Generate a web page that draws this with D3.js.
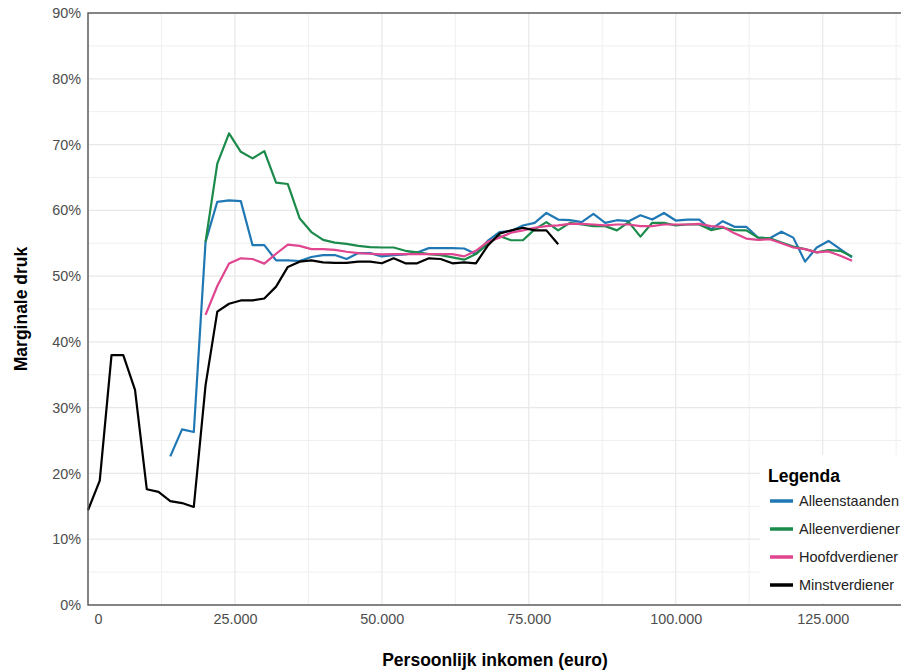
<!DOCTYPE html>
<html><head><meta charset="utf-8">
<script src="https://cdn.jsdelivr.net/npm/d3@7"></script>
<style>
body{margin:0;background:#fff;}
svg{display:block;font-family:"Liberation Sans",Arial,sans-serif;}
</style></head>
<body><svg id="chart" width="901" height="671"></svg>
<script>
// ---- data (income in euro, marginal pressure in %) ----
const income = [0,2000,4000,6000,8000,10000,12000,14000,16000,18000,20000,22000,24000,26000,28000,30000,32000,34000,36000,38000,40000,42000,44000,46000,48000,50000,52000,54000,56000,58000,60000,62000,64000,66000,68000,70000,72000,74000,76000,78000,80000,82000,84000,86000,88000,90000,92000,94000,96000,98000,100000,102000,104000,106000,108000,110000,112000,114000,116000,118000,120000,122000,124000,126000,128000,130000];
const alleenstaanden = [null,null,null,null,null,null,null,
  22.6,26.7,26.3,
  55.2,61.3,61.5,61.4,54.7,54.7,52.4,52.4,52.3,52.9,
  53.2,53.2,52.6,53.5,53.5,53.0,53.2,53.3,53.6,54.25,
  54.25,54.25,54.2,53.35,55.35,56.7,56.85,57.7,58.1,59.6,
  58.6,58.5,58.2,59.45,58.1,58.5,58.35,59.25,58.6,59.6,
  58.45,58.6,58.6,57.1,58.35,57.5,57.5,55.85,55.75,56.75,
  55.85,52.2,54.35,55.35,54.1,52.85];
const alleenverdiener = [null,null,null,null,null,null,null,null,null,null,
  55.2,67.1,71.7,68.9,67.9,69.0,64.2,64.0,58.8,56.7,
  55.5,55.1,54.9,54.6,54.4,54.35,54.35,53.85,53.6,53.35,
  53.2,52.85,52.5,53.35,54.85,56.1,55.45,55.45,57.1,58.2,
  56.95,58.1,57.85,57.6,57.6,56.95,58.2,56.0,58.1,58.1,
  57.7,57.85,57.85,57.0,57.35,57.0,56.95,55.85,55.75,55.1,
  54.5,54.1,53.6,53.95,53.85,53.0];
const hoofdverdiener = [null,null,null,null,null,null,null,null,null,null,
  44.1,48.5,51.9,52.7,52.6,51.9,53.4,54.8,54.6,54.1,
  54.1,54.0,53.7,53.5,53.4,53.3,53.35,53.35,53.35,53.35,
  53.35,53.35,53.0,53.85,55.2,55.85,56.6,56.95,57.35,57.6,
  57.7,57.95,57.95,57.85,57.7,57.85,57.85,57.6,57.6,57.85,
  57.85,57.85,57.95,57.6,57.5,56.5,55.7,55.5,55.6,55.0,
  54.35,54.1,53.6,53.75,53.1,52.35];
const minstverdiener = [14.4,18.9,38.0,38.0,32.7,17.6,17.2,15.8,15.5,14.9,
  33.4,44.6,45.8,46.3,46.3,46.6,48.4,51.4,52.2,52.4,
  52.1,52.0,52.0,52.2,52.2,51.95,52.7,51.95,51.95,52.7,
  52.6,51.95,52.1,51.95,54.6,56.45,56.95,57.35,56.95,56.95,
  54.85];
const seriesNames = ["Alleenstaanden","Alleenverdiener","Hoofdverdiener","Minstverdiener"];
const seriesValues = [alleenstaanden, alleenverdiener, hoofdverdiener, minstverdiener];
const seriesColors = ["#1f78b4","#1b8a4b","#e0458f","#000000"];
const xTicks = [0,25000,50000,75000,100000,125000];
const xMinor = [12500,37500,62500,87500,112500,137500];
const yTicks = [0,10,20,30,40,50,60,70,80,90];
const yMinor = [5,15,25,35,45,55,65,75,85];
const xTitle = "Persoonlijk inkomen (euro)";
const yTitle = "Marginale druk";
const legendTitle = "Legenda";

// ---- layout ----
const svg = d3.select("#chart");
const L = 88, R = 902, T = 13, B = 605;
const x = d3.scaleLinear().domain([0, 138500]).range([L, R]);
const y = d3.scaleLinear().domain([0, 90]).range([B, T]);
const fmtX = v => d3.format(",")(v).replace(/,/g, ".");

const grid = svg.append("g");
grid.selectAll(".xm").data(xMinor).join("line")
  .attr("x1", d => x(d)).attr("x2", d => x(d)).attr("y1", T).attr("y2", B)
  .attr("stroke", "#efefef").attr("stroke-width", 1);
grid.selectAll(".ym").data(yMinor).join("line")
  .attr("y1", d => y(d)).attr("y2", d => y(d)).attr("x1", L).attr("x2", R)
  .attr("stroke", "#efefef").attr("stroke-width", 1);
grid.selectAll(".xM").data(xTicks).join("line")
  .attr("x1", d => x(d)).attr("x2", d => x(d)).attr("y1", T).attr("y2", B)
  .attr("stroke", "#e8e8e8").attr("stroke-width", 1.2);
grid.selectAll(".yM").data(yTicks).join("line")
  .attr("y1", d => y(d)).attr("y2", d => y(d)).attr("x1", L).attr("x2", R)
  .attr("stroke", "#e8e8e8").attr("stroke-width", 1.2);

// lines
const line = d3.line()
  .defined(d => d.v !== null && d.v !== undefined)
  .x(d => x(d.x)).y(d => y(d.v));
seriesValues.forEach((vals, i) => {
  const pts = income.map((xv, j) => ({x: xv, v: j < vals.length ? vals[j] : null}));
  svg.append("path").datum(pts)
    .attr("d", line)
    .attr("fill", "none")
    .attr("stroke", seriesColors[i])
    .attr("stroke-width", 2.2)
    .attr("stroke-linejoin", "round")
    .attr("stroke-linecap", "butt");
});

// panel border
svg.append("rect").attr("x", L).attr("y", T).attr("width", R - L).attr("height", B - T)
  .attr("fill", "none").attr("stroke", "#555").attr("stroke-width", 1.4);

// axes
const xAxis = svg.append("g").attr("transform", `translate(0,${B})`)
  .call(d3.axisBottom(x).tickValues(xTicks).tickFormat(fmtX).tickSize(0).tickPadding(9));
xAxis.select(".domain").remove();
xAxis.selectAll("text").attr("font-size", 14.4).attr("fill", "#4d4d4d")
  .attr("font-family", "Liberation Sans, Arial, sans-serif")
  .attr("dx", d => d === 0 ? 10 : 0);

const yAxis = svg.append("g").attr("transform", `translate(${L},0)`)
  .call(d3.axisLeft(y).tickValues(yTicks).tickFormat(d => d + "%").tickSize(0).tickPadding(7));
yAxis.select(".domain").remove();
yAxis.selectAll("text").attr("font-size", 14.4).attr("fill", "#4d4d4d")
  .attr("font-family", "Liberation Sans, Arial, sans-serif");

// titles
svg.append("text").attr("x", (L + R) / 2).attr("y", 666).attr("text-anchor", "middle")
  .attr("font-size", 17.5).attr("font-weight", "bold").attr("fill", "#000").text(xTitle);
svg.append("text").attr("transform", `translate(27,${(T + B) / 2}) rotate(-90)`)
  .attr("text-anchor", "middle").attr("font-size", 17.5).attr("font-weight", "bold")
  .attr("fill", "#000").text(yTitle);

// legend
const lg = svg.append("g").attr("transform", "translate(760,455)");
lg.append("rect").attr("x", 0).attr("y", 0).attr("width", 160).attr("height", 148).attr("fill", "#fff");
lg.append("text").attr("x", 8).attr("y", 27).attr("font-size", 17.5).attr("font-weight", "bold")
  .attr("fill", "#000").text(legendTitle);
seriesNames.forEach((n, i) => {
  const yy = 46 + i * 28;
  lg.append("line").attr("x1", 10).attr("x2", 33).attr("y1", yy).attr("y2", yy)
    .attr("stroke", seriesColors[i]).attr("stroke-width", 3.5);
  lg.append("text").attr("x", 39).attr("y", yy + 5).attr("font-size", 14.5)
    .attr("fill", "#222").text(n);
});
</script></body></html>
